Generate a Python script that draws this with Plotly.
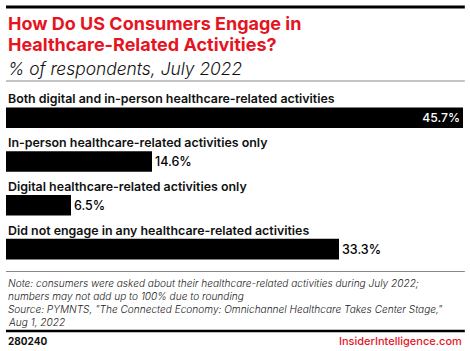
import plotly.graph_objects as go

categories = [
    "Both digital and in-person healthcare-related activities",
    "In-person healthcare-related activities only",
    "Digital healthcare-related activities only",
    "Did not engage in any healthcare-related activities",
]
values = [45.7, 14.6, 6.5, 33.3]
value_labels = [f"{v:.1f}%" for v in values]
text_positions = ["inside", "outside", "outside", "outside"]
text_colors = ["white", "black", "black", "black"]

title_lines = ["How Do US Consumers Engage in", "Healthcare-Related Activities?"]
subtitle = "% of respondents, July 2022"
note_lines = [
    "Note: consumers were asked about their healthcare-related activities during July 2022;",
    "numbers may not add up to 100% due to rounding",
    "Source: PYMNTS, \"The Connected Economy: Omnichannel Healthcare Takes Center Stage,\"",
    "Aug 1, 2022",
]
chart_id = "280240"
brand = "InsiderIntelligence.com"

RED = "#e5141f"
FONT = "Inter"

W, H = 470, 351
idx = list(range(len(categories)))

fig = go.Figure()
fig.add_trace(go.Bar(
    x=values, y=idx, orientation="h",
    marker=dict(color="black", line=dict(width=0)),
    width=0.47,
    text=value_labels, textposition=text_positions,
    insidetextanchor="end",
    textfont=dict(family=FONT, size=12.5, color=text_colors, weight=500),
    cliponaxis=False,
    hoverinfo="skip",
))

first_center_px = 117.7
step_px = 43.8
y_top = -first_center_px / step_px
y_bot = (H - first_center_px) / step_px

def py(px):
    return 1 - px / H

annotations = []
for i, c in enumerate(categories):
    annotations.append(dict(
        x=0, xref="paper", xanchor="left",
        y=i - 0.43, yref="y", yanchor="middle",
        text=c, showarrow=False,
        font=dict(family=FONT, size=12.4, color="#111", weight=600),
    ))

for j, (t, cy) in enumerate(zip(title_lines, [24, 44])):
    annotations.append(dict(
        x=0, xref="paper", xanchor="left", y=py(cy), yref="paper", yanchor="middle",
        text=t, showarrow=False,
        font=dict(family=FONT, size=18, color=RED, weight=700)))

annotations.append(dict(
    x=0, xref="paper", xanchor="left", y=py(68), yref="paper", yanchor="middle",
    text=f"<i>{subtitle}</i>", showarrow=False,
    font=dict(family=FONT, size=17.4, color="#111", weight=300)))

for j, t in enumerate(note_lines):
    annotations.append(dict(
        x=0, xref="paper", xanchor="left", y=py(283 + 13 * j), yref="paper", yanchor="middle",
        text=f"<i>{t}</i>", showarrow=False,
        font=dict(family=FONT, size=10.1, color="#222", weight=300)))

annotations += [
    dict(x=0, xref="paper", xanchor="left", y=py(341), yref="paper", yanchor="middle",
         text=chart_id, showarrow=False,
         font=dict(family=FONT, size=10, color="#111", weight=700)),
    dict(x=1.002, xref="paper", xanchor="right", y=py(341), yref="paper", yanchor="middle",
         text=brand, showarrow=False,
         font=dict(family=FONT, size=11, color=RED, weight=500)),
]

shapes = [
    dict(type="line", xref="paper", yref="paper", x0=0, x1=1.004, y0=py(7), y1=py(7),
         line=dict(color="black", width=3)),
    dict(type="line", xref="paper", yref="paper", x0=0, x1=1.004, y0=py(81), y1=py(81),
         line=dict(color="#888", width=1)),
    dict(type="line", xref="paper", yref="paper", x0=0, x1=1.004, y0=py(271.5), y1=py(271.5),
         line=dict(color="#888", width=1)),
    dict(type="line", xref="paper", yref="paper", x0=0, x1=1.004, y0=py(331), y1=py(331),
         line=dict(color="black", width=2.5)),
]

fig.update_layout(
    width=W, height=H,
    margin=dict(l=6, r=7, t=0, b=0, pad=0),
    paper_bgcolor="white", plot_bgcolor="white",
    showlegend=False,
    xaxis=dict(range=[0, max(values)], visible=False, fixedrange=True),
    yaxis=dict(range=[y_bot, y_top], visible=False, fixedrange=True),
    annotations=annotations, shapes=shapes,
)

fig.write_html("out.html", config={"displayModeBar": False})
